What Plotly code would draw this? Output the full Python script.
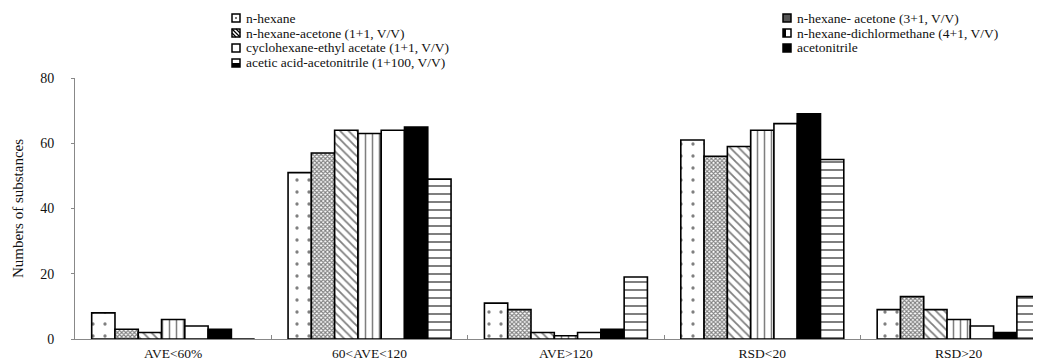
import plotly.graph_objects as go

categories = ["AVE<60%", "60<AVE<120", "AVE>120", "RSD<20", "RSD>20"]

series_names = [
    "n-hexane",
    "n-hexane- acetone (3+1, V/V)",
    "n-hexane-acetone (1+1, V/V)",
    "n-hexane-dichlormethane (4+1, V/V)",
    "cyclohexane-ethyl acetate (1+1, V/V)",
    "acetonitrile",
    "acetic acid-acetonitrile (1+100, V/V)",
]

n_hexane = [8, 51, 11, 61, 9]
n_hexane_acetone_31 = [3, 57, 9, 56, 13]
n_hexane_acetone_11 = [2, 64, 2, 59, 9]
n_hexane_dcm_41 = [6, 63, 1, 64, 6]
cyclohexane_ea = [4, 64, 2, 66, 4]
acetonitrile = [3, 65, 3, 69, 2]
acetic_acid_acn = [0, 49, 19, 55, 13]

values = [n_hexane, n_hexane_acetone_31, n_hexane_acetone_11, n_hexane_dcm_41,
          cyclohexane_ea, acetonitrile, acetic_acid_acn]

# pattern styles (shape, size, solidity, fill colour)
styles = [
    dict(shape=".", size=12, solidity=0.06, color="white"),
    dict(shape="x", size=3, solidity=0.6, color="white"),
    dict(shape="\\", size=6, solidity=0.3, color="white"),
    dict(shape="|", size=7, solidity=0.22, color="white"),
    dict(shape="", size=8, solidity=0.2, color="white"),
    dict(shape="", size=8, solidity=0.2, color="black"),
    dict(shape="-", size=8, solidity=0.25, color="white"),
]

FONT = "Liberation Serif, Times New Roman, serif"
TXT = "#111"

W, H = 1041, 363
ML, MR, MT, MB = 67, 0, 70, 32
PW = W - ML - MR
PH = H - MT - MB


def px_x(x):
    return (x - ML) / PW


def px_y(y):
    return (H - MB - y) / PH


fig = go.Figure()
for name, vals, st in zip(series_names, values, styles):
    pattern = dict(fillmode="overlay", fgcolor="black", bgcolor=st["color"])
    if st["shape"]:
        pattern.update(shape=st["shape"], size=st["size"], solidity=st["solidity"])
    fig.add_trace(go.Bar(
        x=categories, y=vals, name=name, showlegend=False,
        marker=dict(color=st["color"], line=dict(color="black", width=1.6),
                    pattern=pattern),
    ))

# manual two-column legend (text as annotations, small icon shapes)
legend_cols = [0, 1, 0, 1, 0, 1, 0]
legend_rows = [0, 0, 1, 1, 2, 2, 3]
col_icon_x = [228, 779]
row_y = [10, 25, 40, 55]
icon_fill = ["white", "#555", "white", "white", "white", "black", "white"]

annotations = []
shapes = []
for i, name in enumerate(series_names):
    cx = px_x(col_icon_x[legend_cols[i]])
    cy = px_y(row_y[legend_rows[i]])
    annotations.append(dict(
        text=name, xref="paper", yref="paper", x=px_x(col_icon_x[legend_cols[i]] + 8),
        y=cy, xanchor="left", yanchor="middle", showarrow=False,
        font=dict(family=FONT, size=13.5, color=TXT),
    ))
    base = dict(xref="paper", yref="paper", xsizemode="pixel", ysizemode="pixel",
                xanchor=cx, yanchor=cy)
    shapes.append(dict(type="rect", x0=-4, x1=4, y0=-4, y1=4,
                       fillcolor=icon_fill[i], line=dict(color="black", width=1.5), **base))
    if i == 0:
        shapes.append(dict(type="rect", x0=-0.7, x1=0.7, y0=-0.7, y1=0.7,
                           fillcolor="black", line=dict(width=0), **base))
    elif i == 2:
        shapes.append(dict(type="line", x0=-4, x1=4, y0=4, y1=-4,
                           line=dict(color="black", width=1.2), **base))
        shapes.append(dict(type="line", x0=-4, x1=0, y0=0, y1=-4,
                           line=dict(color="black", width=1.2), **base))
        shapes.append(dict(type="line", x0=0, x1=4, y0=4, y1=0,
                           line=dict(color="black", width=1.2), **base))
    elif i == 3:
        shapes.append(dict(type="rect", x0=-4, x1=-1, y0=-4, y1=4,
                           fillcolor="black", line=dict(width=0), **base))
    elif i == 6:
        shapes.append(dict(type="rect", x0=-4, x1=4, y0=-4, y1=0,
                           fillcolor="black", line=dict(width=0), **base))

fig.update_layout(
    width=W, height=H,
    margin=dict(l=ML, r=MR, t=MT, b=MB),
    plot_bgcolor="white", paper_bgcolor="white",
    barmode="group", bargap=0.17, bargroupgap=0,
    font=dict(family=FONT, size=13, color=TXT),
    showlegend=False,
    annotations=annotations,
    shapes=shapes,
)
fig.update_xaxes(
    range=[-0.5, 4.46], showline=True, linecolor="#888", linewidth=1,
    ticks="inside", tickson="boundaries", ticklen=4, tickcolor="#888",
    showgrid=False, ticklabelstandoff=2,
    tickfont=dict(family=FONT, size=13.5, color=TXT),
)
fig.update_yaxes(
    range=[0, 80], dtick=20, showline=True, linecolor="#888", linewidth=1,
    ticks="outside", ticklen=3, tickcolor="#888", showgrid=False, zeroline=False,
    ticklabelstandoff=14,
    tickfont=dict(family=FONT, size=14, color=TXT),
    title=dict(text="Numbers of substances", font=dict(family=FONT, size=15, color=TXT),
               standoff=12),
)

fig.write_html("out.html")
